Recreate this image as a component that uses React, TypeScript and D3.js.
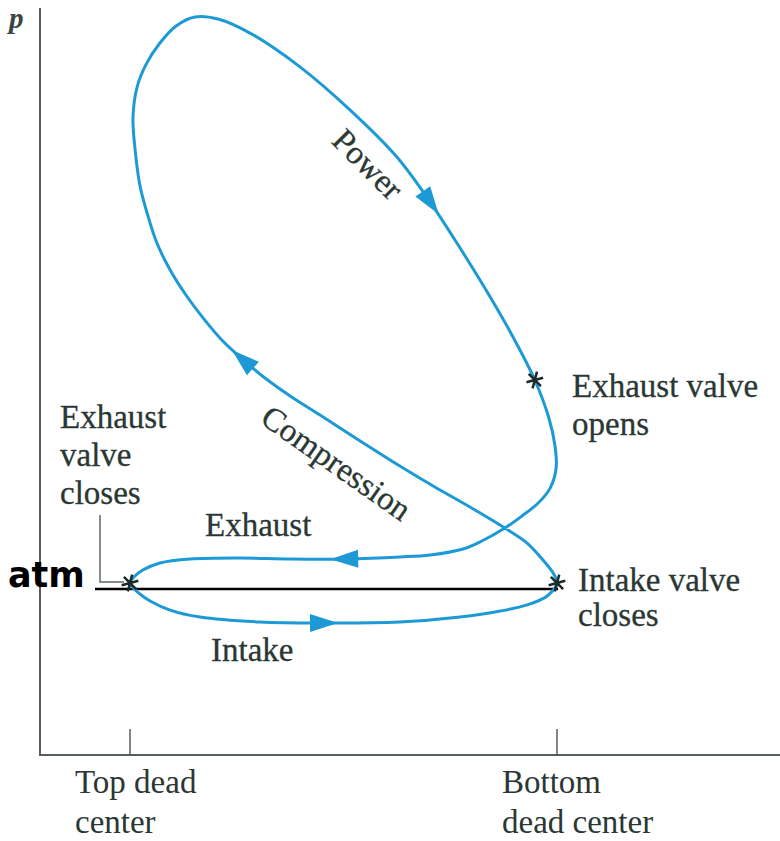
import React from "react";
import * as d3 from "d3";

// Piston position: 0 = top dead center, 1 = bottom dead center
// Pressure: 0 = axis, 1 = atmospheric
const cycleV = [
  0, 0.023, 0.047, 0.094, 0.164, 0.304, 0.452, 0.632, 0.773, 0.867, 0.93, 0.977, 1.0,
  0.991, 0.967, 0.93, 0.878, 0.796, 0.714, 0.632, 0.539, 0.445, 0.375, 0.316, 0.265, 0.215,
  0.171, 0.131, 0.094, 0.063, 0.04, 0.023, 0.012, 0.007, 0.016, 0.037, 0.07, 0.108, 0.152,
  0.206, 0.281, 0.398, 0.515, 0.625, 0.703, 0.773, 0.838, 0.897, 0.948, 0.981, 0.995, 0.998,
  0.984, 0.956, 0.918, 0.878, 0.824, 0.78, 0.703, 0.632, 0.504, 0.375, 0.258, 0.141, 0.07,
  0.03, 0.009,
];
const cycleP = [
  1.036, 0.97, 0.928, 0.873, 0.831, 0.801, 0.795, 0.801, 0.831, 0.867, 0.904, 0.958, 1.036,
  1.096, 1.175, 1.277, 1.367, 1.494, 1.614, 1.741, 1.892, 2.048, 2.163, 2.271, 2.38, 2.5,
  2.633, 2.771, 2.922, 3.084, 3.265, 3.434, 3.645, 3.837, 4.018, 4.157, 4.289, 4.392, 4.446,
  4.434, 4.349, 4.145, 3.886, 3.602, 3.331, 3.054, 2.783, 2.518, 2.259, 2.03, 1.867, 1.729,
  1.608, 1.518, 1.44, 1.367, 1.289, 1.241, 1.205, 1.193, 1.181, 1.181, 1.187, 1.181, 1.157,
  1.114, 1.072,
];

// Events marked on the cycle (index into cycle arrays)
const markerIdx = [0, 12, 48];
// Stroke direction arrows (index into cycle arrays)
const arrowIdx = [6, 24, 44, 60];

const tickV = [0, 1];
const tickLabels = [["Top dead", "center"], ["Bottom", "dead center"]];
const atmP = 1;

const W = 780;
const H = 841;
const BLUE = "#1d9ad6";
const TEXT = "#2a3734";
const AXIS = "#55605c";
const FONT = "'Liberation Serif', 'Times New Roman', serif";

export default function App() {
  const x = d3.scaleLinear().domain([0, 1]).range([130, 557]);
  const y = d3.scaleLinear().domain([0, 1]).range([755, 589]);

  const axisLeft = 40;
  const axisRight = 780;
  const axisTop = 8;
  const y0 = y(0);

  const pts: [number, number][] = cycleV.map((v, i) => [x(v), y(cycleP[i])]);
  const line = d3.line<[number, number]>().curve(d3.curveCatmullRomClosed.alpha(0.5));
  const pathD = line(pts) || "";

  const star = d3.symbol().type(d3.symbolAsterisk).size(210);

  const n = pts.length;
  const arrows = arrowIdx.map((i) => {
    const a = pts[(i - 1 + n) % n];
    const b = pts[(i + 1) % n];
    const ang = (Math.atan2(b[1] - a[1], b[0] - a[0]) * 180) / Math.PI;
    return { p: pts[i], ang };
  });

  const fs = 33;

  return (
    <svg
      width={W}
      height={H}
      style={{ position: "absolute", left: 0, top: 0, background: "#fff" }}
    >
      {/* axes */}
      <line x1={axisLeft} y1={axisTop} x2={axisLeft} y2={y0} stroke={AXIS} strokeWidth={2} />
      <line x1={axisLeft - 1} y1={y0} x2={axisRight} y2={y0} stroke={AXIS} strokeWidth={2} />
      {tickV.map((v, i) => (
        <g key={i}>
          <line x1={x(v)} y1={y0} x2={x(v)} y2={y0 - 26} stroke={AXIS} strokeWidth={1.5} />
          <text x={x(v) - 55} y={793} fontFamily={FONT} fontSize={fs} fill={TEXT}>
            {tickLabels[i][0]}
          </text>
          <text x={x(v) - 55} y={833} fontFamily={FONT} fontSize={fs} fill={TEXT}>
            {tickLabels[i][1]}
          </text>
        </g>
      ))}
      <text x={9} y={28} fontFamily={FONT} fontSize={29} fontStyle="italic" fontWeight="bold" fill="#3a4542">
        p
      </text>

      {/* atmospheric line */}
      <line x1={95} y1={y(atmP)} x2={x(1) + 1} y2={y(atmP)} stroke="#000" strokeWidth={2.5} />
      <text x={8} y={587} fontFamily="'DejaVu Sans', sans-serif" fontWeight="bold" fontSize={35} fill="#000">
        atm
      </text>

      {/* cycle */}
      <path d={pathD} fill="none" stroke={BLUE} strokeWidth={3} />
      {arrows.map((a, i) => (
        <path
          key={i}
          d="M15,0 L-13,-9 L-13,9 Z"
          fill={BLUE}
          transform={`translate(${a.p[0]},${a.p[1]}) rotate(${a.ang})`}
        />
      ))}
      {markerIdx.map((i) => (
        <path
          key={i}
          d={star() || ""}
          transform={`translate(${pts[i][0]},${pts[i][1]}) rotate(15)`}
          fill="none"
          stroke="#1c2a2a"
          strokeWidth={2.5}
        />
      ))}

      {/* leader for exhaust valve closes */}
      <polyline
        points={`100,515 100,582 124,582`}
        fill="none"
        stroke="#5f6a66"
        strokeWidth={1.5}
      />

      {/* labels */}
      <g fontFamily={FONT} fontSize={fs} fill={TEXT} stroke={TEXT} strokeWidth={0.3}>
        <text x={60} y={428}>Exhaust</text>
        <text x={60} y={466}>valve</text>
        <text x={60} y={504}>closes</text>
        <text x={572} y={397}>Exhaust valve</text>
        <text x={572} y={435}>opens</text>
        <text x={578} y={591}>Intake valve</text>
        <text x={578} y={626}>closes</text>
        <text x={205} y={536}>Exhaust</text>
        <text x={211} y={661}>Intake</text>
        <text x={0} y={0} textAnchor="middle" transform="translate(360,172) rotate(45)">
          Power
        </text>
        <text x={0} y={0} textAnchor="middle" transform="translate(330,472) rotate(35)">
          Compression
        </text>
      </g>
    </svg>
  );
}
